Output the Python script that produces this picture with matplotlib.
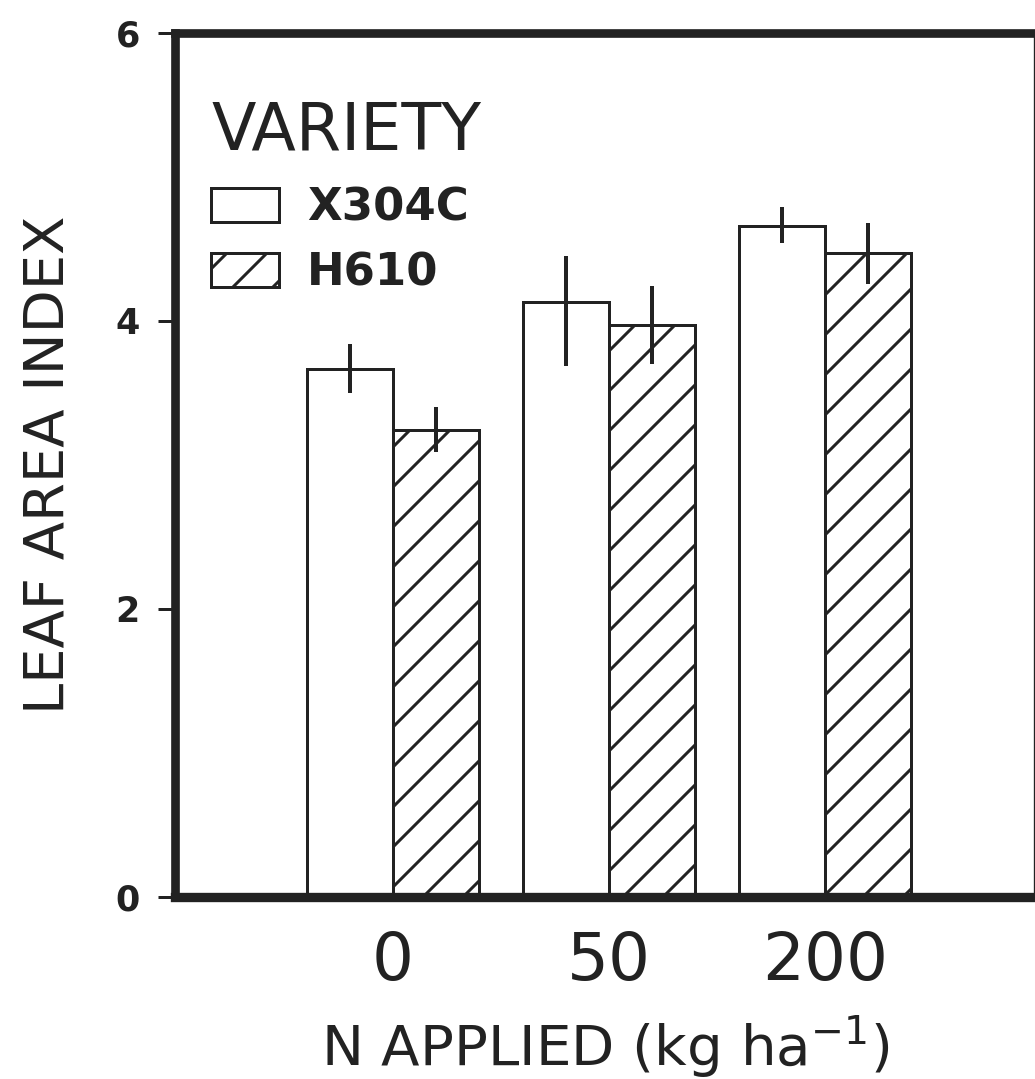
import matplotlib
matplotlib.use('Agg')
import matplotlib.pyplot as plt
import numpy as np

# data
n_rates = ['0', '50', '200']
varieties = ['X304C', 'H610']
lai_x304c = [3.67, 4.13, 4.66]
lai_h610 = [3.24, 3.97, 4.47]
err_x304c_low = [0.17, 0.44, 0.12]
err_x304c_high = [0.17, 0.32, 0.13]
err_h610_low = [0.15, 0.27, 0.21]
err_h610_high = [0.16, 0.27, 0.21]
y_ticks = [0, 2, 4, 6]

DPI = 240
plt.rcParams['hatch.linewidth'] = 0.9
plt.rcParams['hatch.color'] = '#222222'

fig = plt.figure(figsize=(1035 / DPI, 1079 / DPI), dpi=DPI)
ax = fig.add_axes([175 / 1035, 1 - 897 / 1079, 1 - 175 / 1035, (897 - 33) / 1079])

x = np.arange(len(n_rates))
width = 0.4

b1 = ax.bar(x - width / 2, lai_x304c, width, color='white', edgecolor='#222222',
            linewidth=0.9, label=varieties[0])
b2 = ax.bar(x + width / 2, lai_h610, width, color='white', edgecolor='#222222',
            linewidth=0.9, hatch='//', label=varieties[1])

ax.errorbar(x - width / 2, lai_x304c, yerr=[err_x304c_low, err_x304c_high],
            fmt='none', ecolor='#222222', elinewidth=1.2, capsize=0)
ax.errorbar(x + width / 2, lai_h610, yerr=[err_h610_low, err_h610_high],
            fmt='none', ecolor='#222222', elinewidth=1.2, capsize=0)

ax.set_xlim(-1.009, 2.972)
ax.set_ylim(0, 6)
ax.set_yticks(y_ticks)
ax.set_xticks(x)
ax.set_xticklabels(n_rates)

for side in ['left', 'top']:
    ax.spines[side].set_linewidth(2.6)
ax.spines['bottom'].set_linewidth(2.8)
ax.spines['right'].set_linewidth(1.0)
for s in ax.spines.values():
    s.set_color('#222222')

ax.tick_params(axis='y', length=5, width=0.9, pad=5.5, labelsize=10.5,
               colors='#222222')
ax.tick_params(axis='x', length=0, pad=10, labelsize=19.8, colors='#222222')
for lab in ax.get_yticklabels():
    lab.set_fontweight('bold')

ax.set_xlabel('N APPLIED (kg ha$^{-1}$)', fontsize=16.9, color='#222222',
              labelpad=5.5)
ax.set_ylabel('LEAF AREA INDEX', fontsize=16.8, color='#222222', labelpad=12)

leg = ax.legend(handles=[b1, b2], title='VARIETY', loc='upper left',
                bbox_to_anchor=(211 / 1035, 1 - 100 / 1079),
                bbox_transform=fig.transFigure, frameon=False,
                alignment='left', borderpad=0, borderaxespad=0,
                prop={'size': 13.5, 'weight': 'bold'},
                title_fontsize=19.5, handlelength=1.51, handleheight=0.78,
                handletextpad=0.62, labelspacing=0.5)
for t in leg.get_texts():
    t.set_color('#222222')
leg.get_title().set_color('#222222')

fig.savefig('out.png', dpi=DPI)
